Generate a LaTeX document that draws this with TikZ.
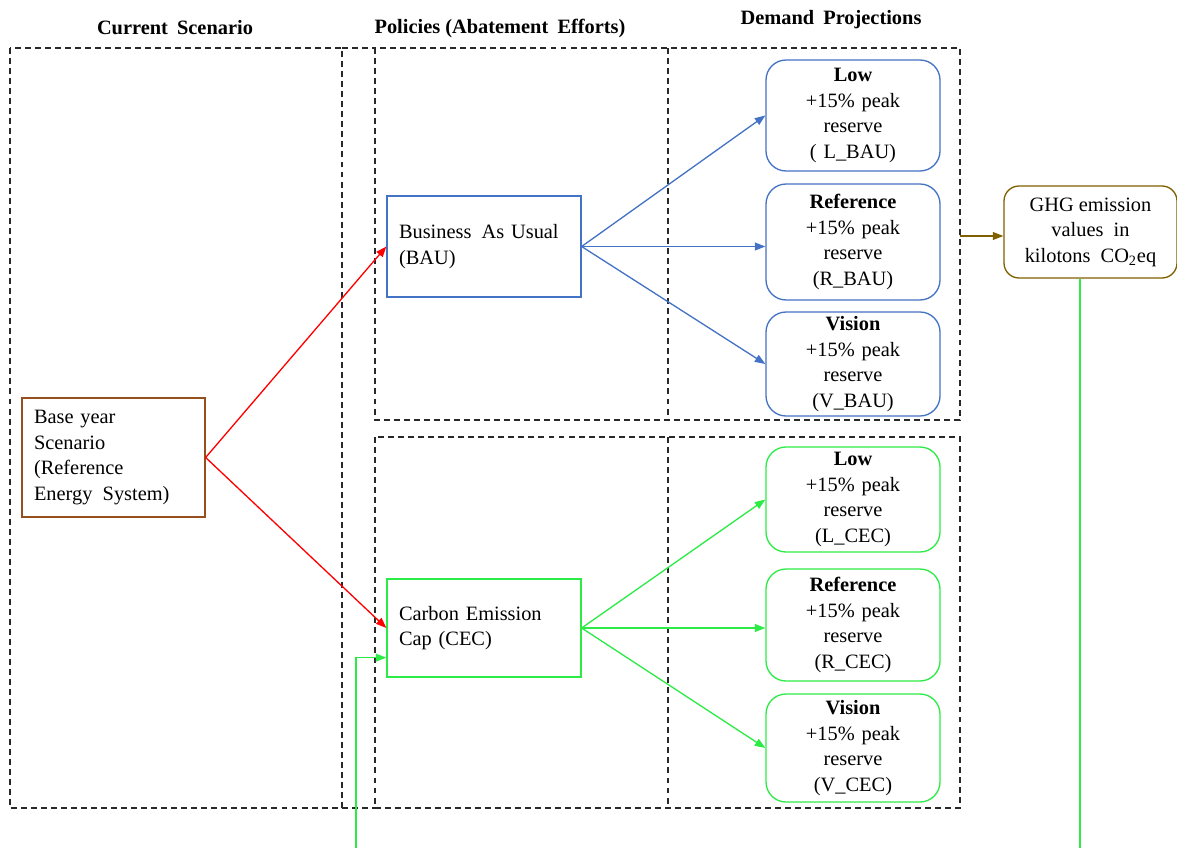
\documentclass[tikz,border=0pt]{standalone}
\usepackage{fontspec}
\setmainfont{Liberation Serif}
\usepackage{tikz}
\usetikzlibrary{arrows.meta,calc}

\definecolor{bauc}{RGB}{68,114,196}
\definecolor{cecc}{RGB}{45,235,70}
\definecolor{basec}{RGB}{150,80,30}
\definecolor{ghgc}{RGB}{127,96,0}
\definecolor{framec}{RGB}{40,40,40}

\begin{document}
\begin{tikzpicture}[x=0.02cm,y=-0.02cm,
  font=\fontsize{11.6}{14.5}\selectfont,
  frame/.style={draw=framec,line width=0.6pt,dash pattern=on 3.4pt off 2.3pt},
  box/.style={draw,line width=0.75pt,align=left,inner xsep=0.24cm,inner ysep=0pt},
  demand/.style={draw,rounded corners=0.4cm,line width=0.75pt,align=center,
    minimum width=3.48cm,inner sep=0pt,text width=3.3cm},
  link/.style={line width=0.75pt,-{Triangle[length=6pt,width=4.5pt]}},
  title/.style={font=\fontsize{11.6}{14.5}\selectfont\bfseries}]

\clip (0,0) rectangle (1177,848);

% headers
\node[title] (tcur) at (175,28) {Current\hspace{0.45em}Scenario};
\node[title] (tpol) at (500,28) {Policies (Abatement\hspace{0.45em}Efforts)};
\node[title] (tdem) at (831,20) {Demand\hspace{0.45em}Projections};

% dashed frames
\draw[frame] (10,48) rectangle (342,808);
\draw[frame] (342,48) -- (375,48);
\draw[frame] (342,808) -- (375,808);
\draw[frame] (375,48) rectangle (960,420);
\draw[frame] (375,437) rectangle (960,808);
\draw[frame] (668,48) -- (668,420);
\draw[frame] (668,437) -- (668,808);

% base year
\node[box,draw=basec,text width=3.18cm,minimum height=2.38cm] (base) at (113.5,457.5)
  {Base year\\Scenario\\(Reference\\Energy\hspace{0.5em}System)};

% policies
\node[box,draw=bauc,text width=3.4cm,minimum height=2.02cm] (bau) at (484,246.5)
  {Business\hspace{0.5em}As Usual\\(BAU)};
\node[box,draw=cecc,text width=3.4cm,minimum height=1.96cm] (cec) at (484,628)
  {Carbon Emission\\Cap (CEC)};

% demand projections
\node[demand,draw=bauc,minimum height=2.22cm] (lbau) at (853,115.5)
  {\textbf{Low}\\+15\% peak\\reserve\\( L\_BAU)};
\node[demand,draw=bauc,minimum height=2.32cm] (rbau) at (853,242)
  {\textbf{Reference}\\+15\% peak\\reserve\\(R\_BAU)};
\node[demand,draw=bauc,minimum height=2.08cm] (vbau) at (853,364)
  {\textbf{Vision}\\+15\% peak\\reserve\\(V\_BAU)};
\node[demand,draw=cecc,minimum height=2.1cm] (lcec) at (853,499.5)
  {\textbf{Low}\\+15\% peak\\reserve\\(L\_CEC)};
\node[demand,draw=cecc,minimum height=2.24cm] (rcec) at (853,625)
  {\textbf{Reference}\\+15\% peak\\reserve\\(R\_CEC)};
\node[demand,draw=cecc,minimum height=2.16cm] (vcec) at (853,748)
  {\textbf{Vision}\\+15\% peak\\reserve\\(V\_CEC)};

% emissions
\node[draw=ghgc,rounded corners=0.3cm,line width=0.75pt,align=center,
  minimum width=3.46cm,minimum height=1.84cm,inner sep=0pt] (ghg) at (1090.5,232)
  {GHG emission\\values\hspace{0.5em}in\\kilotons\hspace{0.5em}CO\textsubscript{2}eq};

% connectors
\draw[link,red] (base.east) -- (bau.west);
\draw[link,red] (base.east) -- (cec.west);
\draw[link,bauc] (bau.east) -- (lbau.west);
\draw[link,bauc] (bau.east) -- (bau.east -| rbau.west);
\draw[link,bauc] (bau.east) -- (vbau.west);
\draw[link,cecc] (cec.east) -- (lcec.west);
\draw[link,cecc] (cec.east) -- (cec.east -| rcec.west);
\draw[link,cecc] (cec.east) -- (vcec.west);

\coordinate (bauR) at (960,236);
\draw[link,ghgc] (bauR) -- (bauR -| ghg.west);

% feedback to the cap
\coordinate (fbR) at (1080,870);
\coordinate (fbL) at (356,870);
\draw[link,cecc] (ghg.south -| fbR) -- (fbR) -- (fbL) |- ($(cec.south west)+(0,-20)$);

\end{tikzpicture}
\end{document}
